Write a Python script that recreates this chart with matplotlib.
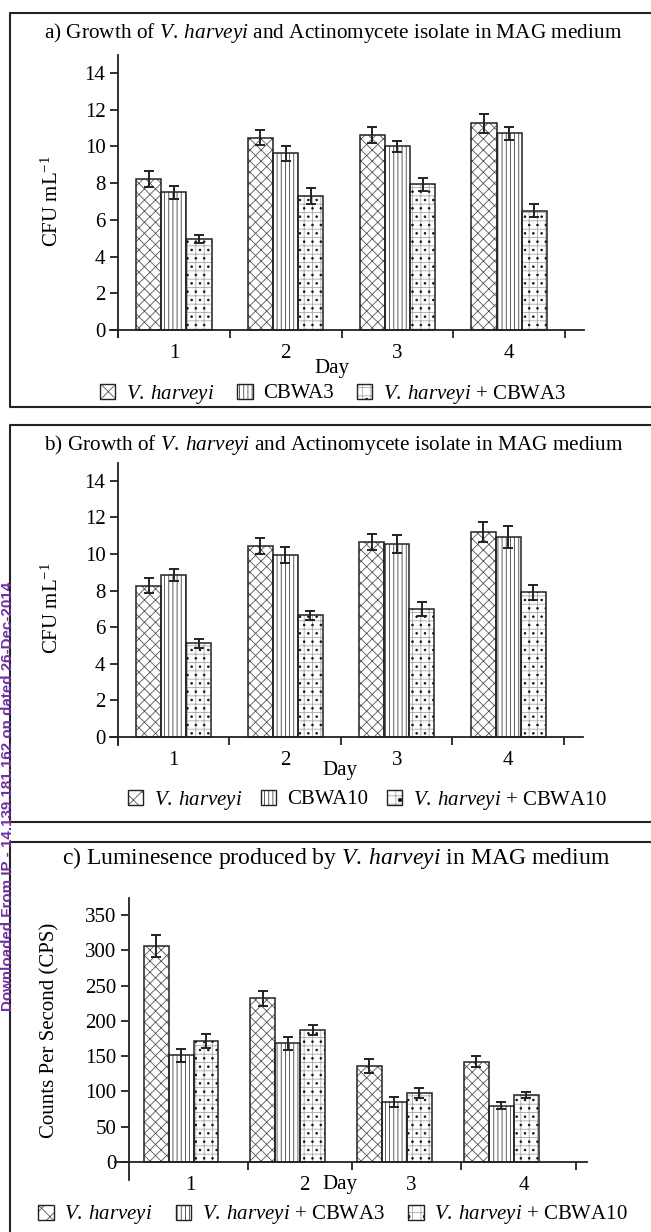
"""
Growth of V. harveyi with actinomycete isolates and luminescence in MAG medium.
Three stacked bar panels (a, b, c) with error bars and hatched bars.
"""
import matplotlib
matplotlib.use("Agg")
import matplotlib.pyplot as plt
import matplotlib.patches as mpatches
import matplotlib.lines as mlines
import numpy as np

plt.rcParams["font.family"] = ["Liberation Serif", "DejaVu Serif"]
plt.rcParams["mathtext.fontset"] = "custom"
plt.rcParams["mathtext.rm"] = "Liberation Serif"
plt.rcParams["mathtext.it"] = "Liberation Serif:italic"
plt.rcParams["hatch.linewidth"] = 0.6

# *** Datos ***
days = [1, 2, 3, 4]

# a) V. harveyi / CBWA3 / V. harveyi + CBWA3  (CFU mL-1)
a_vh = [8.22, 10.48, 10.64, 11.26]
a_vh_err = [0.44, 0.40, 0.44, 0.53]
a_cb3 = [7.50, 9.64, 10.00, 10.71]
a_cb3_err = [0.36, 0.41, 0.31, 0.34]
a_mix = [4.95, 7.30, 7.93, 6.50]
a_mix_err = [0.21, 0.41, 0.34, 0.34]

# b) V. harveyi / CBWA10 / V. harveyi + CBWA10  (CFU mL-1)
b_vh = [8.28, 10.45, 10.65, 11.20]
b_vh_err = [0.39, 0.43, 0.43, 0.55]
b_cb10 = [8.85, 9.96, 10.56, 10.92]
b_cb10_err = [0.34, 0.43, 0.48, 0.60]
b_mix = [5.13, 6.66, 7.00, 7.90]
b_mix_err = [0.24, 0.25, 0.38, 0.41]

# c) luminiscencia (CPS)
c_vh = [306, 232, 136, 142]
c_vh_err = [16, 10.5, 10.5, 7.5]
c_cb3 = [151, 168, 85, 80]
c_cb3_err = [9, 9.5, 7, 4.5]
c_cb10 = [172, 187, 98, 95]
c_cb10_err = [10, 6.5, 7, 4]

W, H = 651, 1232
INK = "#222222"
PURPLE = "#7030A0"
FS = 15

HATCH = {"cross": ("#555555", "xxx"), "vert": ("#444444", "||||"), "mix": ("#a8a8a8", "++")}


def it(s):
    return r"$\mathit{" + s.replace(" ", r"\:") + "}$"


VH = it("V. harveyi")


def axes_px(fig, x0, x1, y0, y1):
    return fig.add_axes([x0 / W, 1 - y1 / H, (x1 - x0) / W, (y1 - y0) / H])


def hatched_bars(ax, x, vals, errs, width, kind):
    col, hatch = HATCH[kind]
    ax.bar(x, vals, width, color="white", edgecolor=col, hatch=hatch, lw=0, zorder=2)
    if kind == "mix":
        ax.bar(x, vals, width, fill=False, edgecolor="#111111", hatch="..", lw=0, zorder=2)
    ax.bar(x, vals, width, fill=False, edgecolor=INK, lw=1.1, zorder=3)
    ax.errorbar(x, vals, yerr=errs, fmt="none", ecolor=INK, elinewidth=1.4,
                capsize=3.5, capthick=1.4, zorder=4)


def legend_handle(kind):
    col, hatch = HATCH[kind]
    if kind == "cross":
        hatch = "xx"
    base = mpatches.Patch(facecolor="white", edgecolor=col, hatch=hatch, lw=0)
    outline = mpatches.Patch(fill=False, edgecolor=INK, lw=1.0)
    if kind == "mix":
        dots = mpatches.Patch(fill=False, edgecolor="#111111", hatch=".", lw=0)
        return (base, dots, outline)
    return (base, outline)


def add_legend(fig, labels, cx, cy, colsp):
    fig.legend([legend_handle("cross"), legend_handle("vert"), legend_handle("mix")],
               labels, loc="center", bbox_to_anchor=(cx / W, 1 - cy / H),
               ncol=3, frameon=False, fontsize=FS, handlelength=0.75, handleheight=0.75,
               handletextpad=0.5, columnspacing=colsp, borderpad=0)


def style_axes(ax, xspine, yticks, bounds, label_pos):
    for s in ("top", "right"):
        ax.spines[s].set_visible(False)
    ax.spines["left"].set_position(("data", xspine))
    ax.spines["bottom"].set_position(("data", 0))
    for s in ("left", "bottom"):
        ax.spines[s].set_color(INK)
        ax.spines[s].set_linewidth(1.3)
    ax.set_yticks(yticks)
    ax.tick_params(axis="y", direction="out", length=6, width=1.3, color=INK,
                   labelsize=FS, pad=3)
    ax.set_xticks(bounds, minor=True)
    ax.set_xticks(label_pos)
    ax.set_xticklabels([str(d) for d in days])
    ax.tick_params(axis="x", which="minor", direction="out", length=5.5, width=1.3, color=INK)
    ax.tick_params(axis="x", which="major", length=0, labelsize=FS, pad=10)
    ax.patch.set_alpha(0)


fig = plt.figure(figsize=(W / 100, H / 100), dpi=100)
x = np.array(days, dtype=float)

# *** Panel a ***
ax = axes_px(fig, 110.2, 584.0, 55.0, 337.0)
wa = 0.225
hatched_bars(ax, x - wa, a_vh, a_vh_err, wa, "cross")
hatched_bars(ax, x, a_cb3, a_cb3_err, wa, "vert")
hatched_bars(ax, x + wa, a_mix, a_mix_err, wa, "mix")
ax.set_xlim(0.43, 4.67)
ax.set_ylim(-0.38, 14.98)
style_axes(ax, 0.5, range(0, 15, 2), [0.5, 1.5, 2.5, 3.5, 4.5], x)
ax.text(0.468, -0.11, "Day", transform=ax.transAxes, ha="center", va="center", fontsize=FS)
fig.text(52 / W, 1 - 201 / H, r"CFU mL$^{-1}$", rotation=90, ha="center", va="center", fontsize=FS)
fig.text(333 / W, 1 - 33 / H, "a) Growth of " + VH + " and Actinomycete isolate in MAG medium",
         ha="center", va="center", fontsize=15.3)
add_legend(fig, [VH, "CBWA3", VH + " + CBWA3"], 333, 394, 1.1)

# *** Panel b ***
ax = axes_px(fig, 110.2, 582.9, 463.0, 745.0)
hatched_bars(ax, x - wa, b_vh, b_vh_err, wa, "cross")
hatched_bars(ax, x, b_cb10, b_cb10_err, wa, "vert")
hatched_bars(ax, x + wa, b_mix, b_mix_err, wa, "mix")
ax.set_xlim(0.43, 4.67)
ax.set_ylim(-0.44, 14.98)
style_axes(ax, 0.5, range(0, 15, 2), [0.5, 1.5, 2.5, 3.5, 4.5], x)
ax.text((340 - 110.2) / (582.9 - 110.2), -(770 - 745) / 282, "Day", transform=ax.transAxes,
        ha="center", va="center", fontsize=FS)
fig.text(52 / W, 1 - 608 / H, r"CFU mL$^{-1}$", rotation=90, ha="center", va="center", fontsize=FS)
fig.text(334 / W, 1 - 445 / H, "b) Growth of " + VH + " and Actinomycete isolate in MAG medium",
         ha="center", va="center", fontsize=15.3)
add_legend(fig, [VH, "CBWA10", VH + " + CBWA10"], 367, 800, 0.9)

# *** Panel c ***
ax = axes_px(fig, 115.0, 587.0, 898.0, 1180.0)
wc = 0.234
hatched_bars(ax, x - wc, c_vh, c_vh_err, wc, "cross")
hatched_bars(ax, x, c_cb3, c_cb3_err, wc, "vert")
hatched_bars(ax, x + wc, c_cb10, c_cb10_err, wc, "mix")
ax.set_xlim(0.381, 4.805)
ax.set_ylim(-25.5, 374)
style_axes(ax, 0.513, range(0, 351, 50), [1.628, 2.603, 3.625, 4.703],
           [1.084, 2.153, 3.156, 4.215])
ax.text((340 - 115) / 472, -(1185 - 1180) / 282, "Day", transform=ax.transAxes,
        ha="center", va="center", fontsize=FS)
fig.text(50 / W, 1 - 1030 / H, "Counts Per Second (CPS)", rotation=90, ha="center", va="center",
         fontsize=FS)
fig.text(336 / W, 1 - 858 / H, "c) Luminesence produced by " + VH + " in MAG medium",
         ha="center", va="center", fontsize=17)
add_legend(fig, [VH, VH + " + CBWA3", VH + " + CBWA10"], 333, 1215, 1.1)

# *** Marcos de cada panel ***
for top, bottom in [(13, 407), (425, 822), (842, 1240)]:
    xs = np.array([700, 10, 10, 700]) / W
    ys = 1 - np.array([top, top, bottom, bottom]) / H
    fig.add_artist(mlines.Line2D(xs, ys, color=INK, lw=1.5, transform=fig.transFigure))

# marca de agua
fig.text(8 / W, 1 - 796 / H, "Downloaded From IP - 14.139.181.162 on dated 26-Dec-2014",
         rotation=90, ha="center", va="center", color=PURPLE, fontsize=10.9,
         fontweight="bold", family="Liberation Sans")

fig.savefig("out.png", dpi=100, facecolor="white")
